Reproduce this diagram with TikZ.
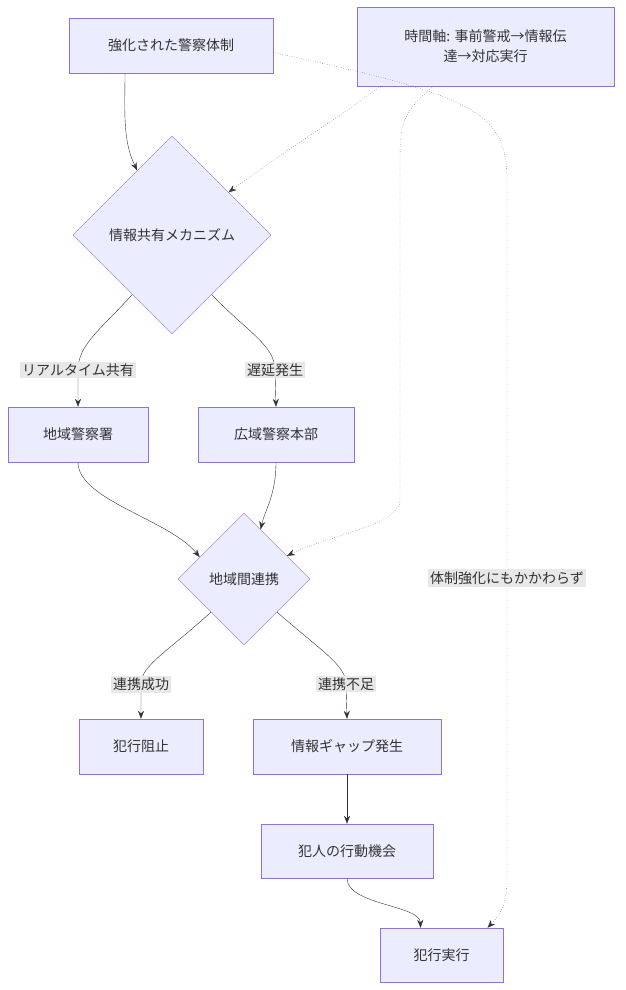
\documentclass[tikz,border=0pt]{standalone}
\usepackage{fontspec}
\setmainfont{Noto Sans CJK JP}
\usetikzlibrary{shapes.geometric,arrows.meta,calc}
\definecolor{nodefill}{HTML}{ECECFF}
\definecolor{nodeline}{HTML}{9370DB}
\definecolor{edgecol}{HTML}{333333}
\definecolor{lblfill}{HTML}{E8E8E8}
\tikzset{
  box/.style={draw=nodeline,fill=nodefill,thin,minimum height=55pt,inner sep=0pt,
    font=\fontsize{14}{20}\selectfont,align=center,text=edgecol},
  decision/.style={draw=nodeline,fill=nodefill,thin,diamond,aspect=1,inner sep=0pt,
    font=\fontsize{14}{20}\selectfont,text=edgecol},
  lbl/.style={fill=lblfill,inner sep=2pt,font=\fontsize{14}{18}\selectfont,text=edgecol},
  edge/.style={draw=edgecol,thin,-{Stealth[length=8pt,width=6pt]}},
  dotedge/.style={edge,dotted}
}
\begin{document}
\begin{tikzpicture}[x=1pt,y=-1pt]
\useasboundingbox (0,0) rectangle (625,990);

% nodes
\node[box,minimum width=204pt] (strong) at (171,45.5) {強化された警察体制};
\node[box,minimum width=257pt,minimum height=79pt] (time) at (485.5,46.5) {時間軸: 事前警戒→情報伝\\達→対応実行};
\node[decision,minimum size=198pt] (share) at (172,235) {情報共有メカニズム};
\node[box,minimum width=140pt] (local) at (78,434.5) {地域警察署};
\node[box,minimum width=156pt] (wide) at (276,434.5) {広域警察本部};
\node[decision,minimum size=132pt] (link) at (244,579) {地域間連携};
\node[box,minimum width=124pt] (stop) at (141,746.5) {犯行阻止};
\node[box,minimum width=188pt] (gap) at (347,746.5) {情報ギャップ発生};
\node[box,minimum width=172pt,minimum height=54pt] (chance) at (347,851) {犯人の行動機会};
\node[box,minimum width=123pt,minimum height=54pt] (crime) at (441.5,955) {犯行実行};

% edges
\draw[edge] ([xshift=-46pt]strong.south) .. controls +(0,35) and +(-15,-30) .. ($(share.north)!0.35!(share.west)$);
\draw[dotedge] ([xshift=-105pt]time.south) .. controls +(-40,30) and +(40,-30) .. ($(share.north)!0.57!(share.east)$);
\draw[dotedge] ([xshift=-52pt]time.south) .. controls (405,110) and (400,120) .. (400,160)
  -- (400,500) .. controls (400,525) and (330,535) .. ($(link.north)!0.65!(link.east)$);
\draw[dotedge] ([yshift=-7pt]strong.east) .. controls (470,95) and (507,110) .. (507,180)
  -- (507,578) node[lbl] {体制強化にもかかわらず} -- (507,880) .. controls (507,910) and (495,920) .. ([xshift=46pt]crime.north);
\draw[edge] ($(share.south)!0.4!(share.west)$) .. controls (100,330) and (78,345) .. (78,370)
  node[lbl] {リアルタイム共有} -- (local.north);
\draw[edge] ($(share.south)!0.4!(share.east)$) .. controls (245,330) and (275,345) .. (275,370)
  node[lbl] {遅延発生} -- (wide.north);
\draw[edge] (local.south) .. controls (78,500) and (170,520) .. ($(link.north)!0.67!(link.west)$);
\draw[edge] (wide.south) .. controls (276,495) and (265,510) .. ($(link.north)!0.25!(link.east)$);
\draw[edge] ($(link.south)!0.5!(link.west)$) .. controls (170,650) and (141,665) .. (141,684)
  node[lbl] {連携成功} -- (stop.north);
\draw[edge] ($(link.south)!0.5!(link.east)$) .. controls (320,650) and (346,665) .. (346,684)
  node[lbl] {連携不足} -- (gap.north);
\draw[edge] (gap.south) -- (chance.north);
\draw[edge] (chance.south) .. controls (347,905) and (420,905) .. ([xshift=-21pt]crime.north);
\end{tikzpicture}
\end{document}
